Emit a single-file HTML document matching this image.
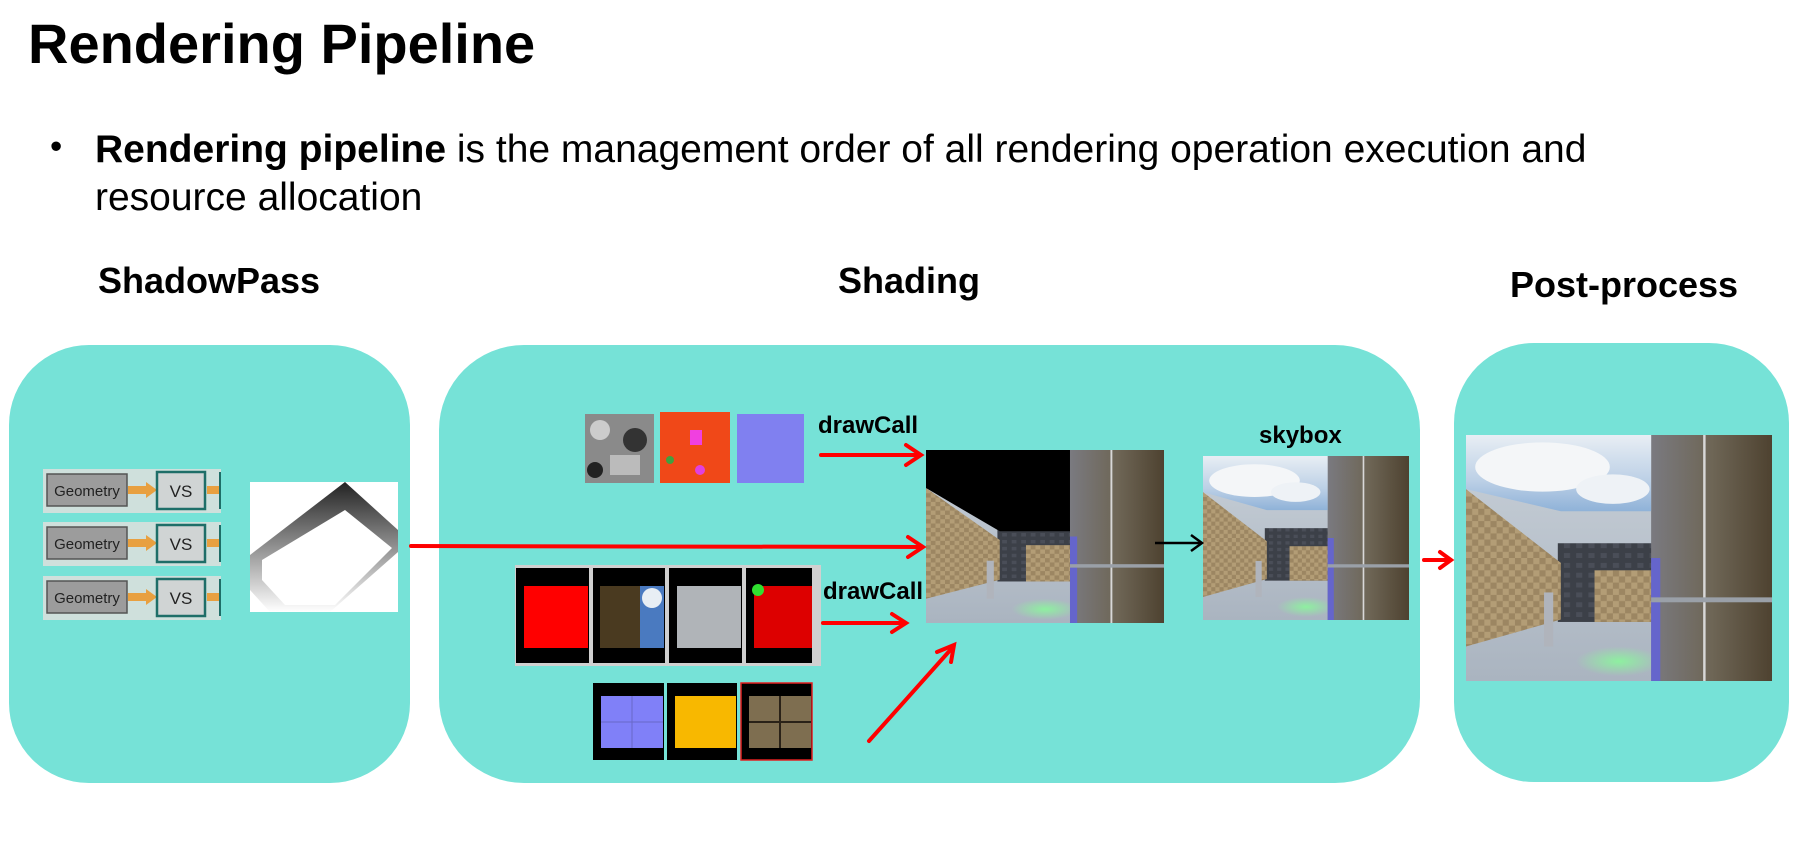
<!DOCTYPE html>
<html><head><meta charset="utf-8"><style>
body{margin:0;width:1810px;height:846px;background:#fff;position:relative;overflow:hidden;font-family:"Liberation Sans",Arial,sans-serif;color:#000}
.a{position:absolute}
.box{position:absolute;background:#76e2d7}
.b{font-weight:bold}
svg{position:absolute;left:0;top:0}
</style></head><body>
<div class="a b" style="left:28px;top:11px;font-size:56px;">Rendering Pipeline</div>
<div class="a" style="left:50px;top:127px;font-size:35px;">•</div>
<div class="a" style="left:95px;top:126px;font-size:39px;line-height:48px;"><b>Rendering pipeline</b> is the management order of all rendering operation execution and<br>resource allocation</div>
<div class="a b" style="left:98px;top:260px;font-size:36px;">ShadowPass</div>
<div class="a b" style="left:838px;top:260px;font-size:36px;">Shading</div>
<div class="a b" style="left:1510px;top:264px;font-size:36px;">Post-process</div>

<div class="box" style="left:9px;top:345px;width:401px;height:438px;border-radius:80px;"></div>
<div class="box" style="left:439px;top:345px;width:981px;height:438px;border-radius:85px;"></div>
<div class="box" style="left:1454px;top:343px;width:335px;height:439px;border-radius:80px;"></div>

<svg width="1810" height="846" viewBox="0 0 1810 846">
<defs>
<pattern id="brick" width="4" height="5" patternUnits="userSpaceOnUse"><rect width="4" height="5" fill="#b39d76"/><rect width="2" height="2.5" fill="#9c8662"/><rect x="2" y="2.5" width="2" height="2.5" fill="#9c8662"/></pattern>
<pattern id="dark" width="4" height="4" patternUnits="userSpaceOnUse"><rect width="4" height="4" fill="#3c4048"/><rect width="2" height="2" fill="#4a4e58"/></pattern>
<linearGradient id="metal" x1="0" x2="1"><stop offset="0" stop-color="#7a7a80"/><stop offset="0.5" stop-color="#6e6656"/><stop offset="1" stop-color="#4e4230"/></linearGradient>
<linearGradient id="floor" x1="0" y1="0" x2="0" y2="1"><stop offset="0" stop-color="#c8d0d8"/><stop offset="1" stop-color="#aab4c0"/></linearGradient>
<linearGradient id="sky" x1="0" y1="0" x2="0" y2="1"><stop offset="0" stop-color="#e8eef4"/><stop offset="0.6" stop-color="#bcd0e6"/><stop offset="1" stop-color="#8fb2d8"/></linearGradient>
<linearGradient id="shadow" x1="0" y1="1" x2="0" y2="0"><stop offset="0" stop-color="#fff"/><stop offset="1" stop-color="#222"/></linearGradient>
<radialGradient id="green" cx="0.5" cy="0.5" r="0.5"><stop offset="0" stop-color="#8ef0a0"/><stop offset="1" stop-color="#8ef0a0" stop-opacity="0"/></radialGradient>
<g id="scene">
 <rect x="0" y="0" width="100" height="100" fill="url(#floor)"/>
 <rect x="30" y="44" width="31" height="32" fill="url(#dark)"/>
 <rect x="42" y="55" width="19" height="21" fill="url(#brick)"/>
 <polygon points="0,22 31,52 31,75 0,86" fill="url(#brick)"/>
 <ellipse cx="50" cy="92" rx="14" ry="6" fill="url(#green)"/>
 <rect x="25.5" y="64" width="3" height="22" fill="#b0b4bc"/>
 <rect x="60.5" y="0" width="39.5" height="100" fill="url(#metal)"/>
 <rect x="60.5" y="50" width="3" height="50" fill="#6060e0" opacity="0.8"/>
 <rect x="77.5" y="0" width="0.8" height="100" fill="#d8d8d8"/>
 <rect x="60.5" y="66" width="39.5" height="2" fill="#9aa0a8"/>
</g>
</defs>

<g font-family="Liberation Sans, Arial, sans-serif" font-size="15">
<g><rect x="43" y="469" width="178" height="44" fill="#cfe0dc"/><rect x="47" y="474" width="80" height="32" fill="#9c9c9c" stroke="#555" stroke-width="1.5"/><text x="87" y="496" text-anchor="middle" fill="#222">Geometry</text><rect x="128" y="486" width="20" height="8" fill="#e8a040"/><polygon points="146,482 157,490 146,498" fill="#e8a040"/><rect x="157" y="472" width="48" height="37" fill="#d0d4d4" stroke="#1e6e68" stroke-width="2.5"/><text x="181" y="497" text-anchor="middle" font-size="17" fill="#222">VS</text><rect x="207" y="486" width="12" height="8" fill="#e8a040"/><rect x="219" y="472" width="2" height="37" fill="#1e6e68"/></g>
<g transform="translate(0,53)"><rect x="43" y="469" width="178" height="44" fill="#cfe0dc"/><rect x="47" y="474" width="80" height="32" fill="#9c9c9c" stroke="#555" stroke-width="1.5"/><text x="87" y="496" text-anchor="middle" fill="#222">Geometry</text><rect x="128" y="486" width="20" height="8" fill="#e8a040"/><polygon points="146,482 157,490 146,498" fill="#e8a040"/><rect x="157" y="472" width="48" height="37" fill="#d0d4d4" stroke="#1e6e68" stroke-width="2.5"/><text x="181" y="497" text-anchor="middle" font-size="17" fill="#222">VS</text><rect x="207" y="486" width="12" height="8" fill="#e8a040"/><rect x="219" y="472" width="2" height="37" fill="#1e6e68"/></g>
<g transform="translate(0,107)"><rect x="43" y="469" width="178" height="44" fill="#cfe0dc"/><rect x="47" y="474" width="80" height="32" fill="#9c9c9c" stroke="#555" stroke-width="1.5"/><text x="87" y="496" text-anchor="middle" fill="#222">Geometry</text><rect x="128" y="486" width="20" height="8" fill="#e8a040"/><polygon points="146,482 157,490 146,498" fill="#e8a040"/><rect x="157" y="472" width="48" height="37" fill="#d0d4d4" stroke="#1e6e68" stroke-width="2.5"/><text x="181" y="497" text-anchor="middle" font-size="17" fill="#222">VS</text><rect x="207" y="486" width="12" height="8" fill="#e8a040"/><rect x="219" y="472" width="2" height="37" fill="#1e6e68"/></g>
</g>
<rect x="250" y="482" width="148" height="130" fill="#fff"/>
<polygon points="345,482 398,530 398,552 330,612 270,612 250,590 250,555" fill="url(#shadow)"/>
<polygon points="345,510 392,548 335,605 285,605 262,580 262,560" fill="#fff"/>

<rect x="585" y="414" width="69" height="69" fill="#8a8a8a"/><circle cx="600" cy="430" r="10" fill="#ccc"/><circle cx="635" cy="440" r="12" fill="#333"/><rect x="610" y="455" width="30" height="20" fill="#bbb"/><circle cx="595" cy="470" r="8" fill="#222"/>
<rect x="660" y="412" width="70" height="71" fill="#f04818"/><rect x="690" y="430" width="12" height="15" fill="#f040e0"/><circle cx="700" cy="470" r="5" fill="#e040e0"/><circle cx="670" cy="460" r="4" fill="#40a040"/>
<rect x="737" y="414" width="67" height="69" fill="#8080f0"/>
<rect x="515" y="565" width="306" height="101" fill="#d0d0d0"/>
<rect x="516" y="568" width="73" height="95" fill="#000"/><rect x="524" y="586" width="64" height="62" fill="#f00"/>
<rect x="593" y="568" width="72" height="95" fill="#000"/><rect x="600" y="586" width="40" height="62" fill="#4a3a20"/><rect x="640" y="586" width="24" height="62" fill="#4a7ac0"/><circle cx="652" cy="598" r="10" fill="#e8eef4"/>
<rect x="669" y="568" width="73" height="95" fill="#000"/><rect x="677" y="586" width="64" height="62" fill="#b0b4b8"/>
<rect x="746" y="568" width="66" height="95" fill="#000"/><rect x="754" y="586" width="58" height="62" fill="#d00"/><circle cx="758" cy="590" r="6" fill="#30e030"/>
<rect x="593" y="683" width="71" height="77" fill="#000"/><rect x="601" y="696" width="62" height="52" fill="#8080f8"/><line x1="632" y1="696" x2="632" y2="748" stroke="#6868c8"/><line x1="601" y1="722" x2="663" y2="722" stroke="#6868c8"/>
<rect x="667" y="683" width="70" height="77" fill="#000"/><rect x="675" y="696" width="61" height="52" fill="#f8b800"/>
<rect x="741" y="683" width="71" height="77" fill="#000" stroke="#e02020" stroke-width="1.5"/><rect x="749" y="696" width="62" height="52" fill="#7e6e50"/><line x1="780" y1="696" x2="780" y2="748" stroke="#2a2218" stroke-width="2"/><line x1="749" y1="722" x2="811" y2="722" stroke="#2a2218" stroke-width="2"/>

<g font-family="Liberation Sans, Arial, sans-serif" font-weight="bold" font-size="24" fill="#000">
<text x="818" y="433">drawCall</text>
<text x="823" y="599">drawCall</text>
<text x="1259" y="443">skybox</text>
</g>

<svg x="926" y="450" width="238" height="173" viewBox="0 0 100 100" preserveAspectRatio="none"><use href="#scene"/><polygon points="0,0 60.5,0 60.5,47 31,47 0,22" fill="#000"/></svg>
<svg x="1203" y="456" width="206" height="164" viewBox="0 0 100 100" preserveAspectRatio="none"><use href="#scene"/><polygon points="0,0 60.5,0 60.5,33 31,33 0,22" fill="url(#sky)"/><ellipse cx="25" cy="15" rx="22" ry="10" fill="#f4f6f8"/><ellipse cx="45" cy="22" rx="12" ry="6" fill="#eef2f6"/></svg>
<svg x="1466" y="435" width="306" height="246" viewBox="0 0 100 100" preserveAspectRatio="none"><use href="#scene"/><polygon points="0,0 60.5,0 60.5,31 31,31 0,22" fill="url(#sky)"/><ellipse cx="25" cy="13" rx="22" ry="10" fill="#f4f6f8"/><ellipse cx="48" cy="22" rx="12" ry="6" fill="#eef2f6"/></svg>

<g stroke="#f00" stroke-width="4" fill="none" stroke-linecap="round">
<line x1="411" y1="546" x2="922" y2="547"/><polyline points="908,537 923,547 908,557"/>
<line x1="821" y1="455" x2="920" y2="455"/><polyline points="906,445 921,455 906,465"/>
<line x1="823" y1="623" x2="905" y2="623"/><polyline points="892,614 906,623 892,632"/>
<line x1="869" y1="741" x2="953" y2="647"/><polyline points="937,652 954,645 951,662"/>
<line x1="1424" y1="560" x2="1449" y2="560"/><polyline points="1440,552 1451,560 1440,568"/>
</g>
<g stroke="#000" stroke-width="2.5" fill="none"><line x1="1155" y1="543" x2="1201" y2="543"/><polyline points="1191,535 1202,543 1191,551"/></g>
</svg>
</body></html>
